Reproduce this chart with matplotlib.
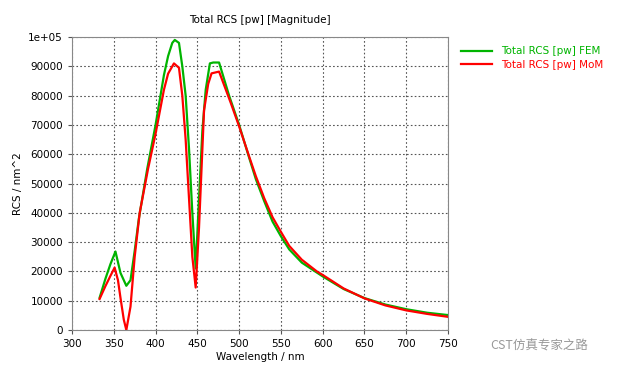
import matplotlib
matplotlib.use("Agg")
import matplotlib.pyplot as plt
from matplotlib.ticker import FixedLocator

# wavelength (nm) and RCS (nm^2)
wl_fem = [333, 340, 346, 352, 358, 365, 370, 375, 380, 390, 400, 410, 415, 420, 423, 428,
          432, 436, 440, 444, 448, 452, 456, 460, 465, 469, 476, 488, 500, 512, 520,
          530, 540, 550, 560, 575, 600, 625, 650, 675, 700, 725, 750]
rcs_fem = [11000, 17500, 22500, 26800, 19500, 15100, 17000, 27000, 38000, 55000, 70000,
           87000, 93500, 98000, 99000, 98000, 90000, 80000, 62000, 40000, 21000, 45000,
           68000, 82000, 91000, 91300, 91300, 80000, 70000, 58800, 51500, 44000,
           37000, 32000, 27500, 23000, 18300, 14000, 10900, 8700, 7100, 5900, 5100]

wl_mom = [333, 340, 346, 351, 355, 358, 362, 365, 370, 375, 381, 391, 400, 410, 415, 422,
          428, 432, 436, 440, 444, 448, 452, 455, 458, 463, 467, 476, 490, 500, 512,
          520, 530, 540, 550, 560, 575, 593, 600, 625, 650, 675, 700, 725, 750]
rcs_mom = [10600, 15000, 18500, 21300, 17000, 11000, 3500, 0, 8000, 25000, 40000, 55000,
           67000, 82000, 87500, 91000, 89500, 80000, 65000, 45000, 25000, 14500, 35000,
           55000, 75000, 84000, 87600, 88200, 77500, 69500, 59200, 52500, 45000,
           38500, 33500, 28700, 24000, 20000, 18800, 14200, 10800, 8400, 6700, 5500, 4500]

xticks = list(range(300, 751, 50))
yticks = list(range(0, 100001, 10000))
ylabels = [str(v) for v in yticks[:-1]] + ["1e+05"]

green = "#00b400"
red = "#ff0000"

plt.rcParams['font.family'] = ['DejaVu Sans']
fig = plt.figure(figsize=(6.24, 3.74), dpi=100)
ax = fig.add_axes([0.1154, 0.1176, 0.6026, 0.7834])

ax.plot(wl_fem, rcs_fem, color=green, lw=1.6, label="Total RCS [pw] FEM")
ax.plot(wl_mom, rcs_mom, color=red, lw=1.6, label="Total RCS [pw] MoM")

ax.set_xlim(300, 750)
ax.set_ylim(0, 100000)
ax.xaxis.set_major_locator(FixedLocator(xticks))
ax.yaxis.set_major_locator(FixedLocator(yticks))
ax.set_yticklabels(ylabels)
ax.tick_params(labelsize=7.5, length=3, color="#555555")
ax.grid(True, ls=(0, (1.5, 2)), color="#555555", lw=0.8)
for s in ax.spines.values():
    s.set_color("#888888")

ax.set_xlabel("Wavelength / nm", fontsize=7.5, labelpad=2)
ax.set_ylabel("RCS / nm^2", fontsize=7.5, labelpad=4)
ax.set_title("Total RCS [pw] [Magnitude]", fontsize=7.5, pad=10)

leg = ax.legend(loc="upper left", bbox_to_anchor=(1.01, 1.0), frameon=False,
                fontsize=7.5, handlelength=3, labelspacing=0.3)
for txt, c in zip(leg.get_texts(), [green, red]):
    txt.set_color(c)

fig.text(0.785, 0.065, "CST仿真专家之路", fontsize=9, color="#999999",
         family=['Noto Sans CJK SC', 'DejaVu Sans'])

fig.savefig("out.png", dpi=100)
